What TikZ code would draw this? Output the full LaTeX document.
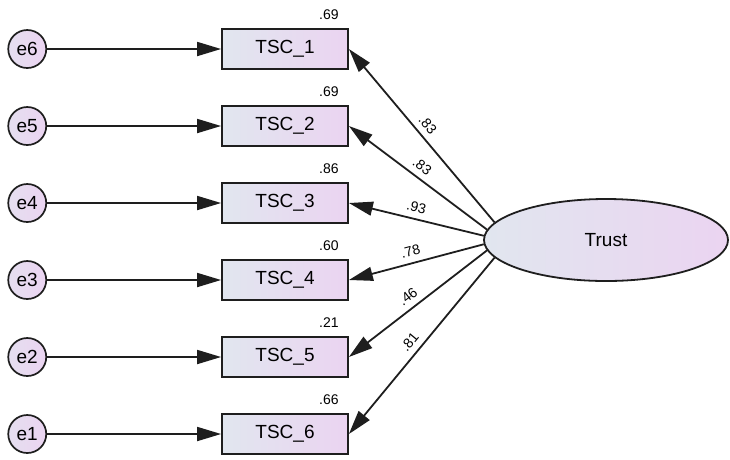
\documentclass[tikz,border=0pt]{standalone}
\usepackage{fontspec}
\setmainfont{Liberation Sans}
\usetikzlibrary{arrows.meta,positioning,shapes.geometric}
\definecolor{shadeleft}{HTML}{E1E6EF}
\definecolor{shaderight}{HTML}{EBD4F1}
\definecolor{edgeline}{HTML}{1E1E1E}
\tikzstyle{observed}=[
	rectangle,
	draw=edgeline,
	line width=1.8pt,
	left color=shadeleft,
	right color=shaderight,
	minimum width=126pt,
	minimum height=40pt,
	inner sep=0pt,
	font=\fontsize{19}{22}\selectfont,
	node distance=35.2pt
]
\tikzstyle{error}=[
	circle,
	draw=edgeline,
	line width=1.7pt,
	left color=shadeleft!60!shaderight,
	right color=shaderight,
	minimum size=38pt,
	inner sep=0pt,
	font=\fontsize{19}{22}\selectfont,
	node distance=174pt
]
\tikzstyle{latent}=[
	ellipse,
	draw=edgeline,
	line width=1.8pt,
	left color=shadeleft,
	right color=shaderight,
	minimum width=244pt,
	minimum height=82pt,
	inner sep=0pt,
	font=\fontsize{19}{22}\selectfont
]
\tikzstyle{regress}=[
	-{Triangle[length=24pt,width=14pt]},
	line width=1.8pt,
	draw=edgeline
]
\tikzstyle{coef}=[
	sloped,
	above=5pt,
	pos=0.52,
	inner sep=1pt,
	font=\fontsize{14}{16}\selectfont
]
\tikzstyle{rsq}=[
	anchor=base east,
	inner sep=0pt,
	font=\fontsize{14}{16}\selectfont
]

\begin{document}
\begin{tikzpicture}[x=1pt,y=-1pt]
\useasboundingbox (0,0) rectangle (730,459);
% indicators
\node [observed] (TSC1) at (285,49) {TSC\_1};
\node [observed] (TSC2) [below=of TSC1] {TSC\_2};
\node [observed] (TSC3) [below=of TSC2] {TSC\_3};
\node [observed] (TSC4) [below=of TSC3] {TSC\_4};
\node [observed] (TSC5) [below=of TSC4] {TSC\_5};
\node [observed] (TSC6) [below=of TSC5] {TSC\_6};
% squared multiple correlations
\node [rsq] (R1) at ([xshift=-10pt,yshift=9pt]TSC1.north east) {.69};
\node [rsq] (R2) at ([xshift=-10pt,yshift=9pt]TSC2.north east) {.69};
\node [rsq] (R3) at ([xshift=-10pt,yshift=9pt]TSC3.north east) {.86};
\node [rsq] (R4) at ([xshift=-10pt,yshift=9pt]TSC4.north east) {.60};
\node [rsq] (R5) at ([xshift=-10pt,yshift=9pt]TSC5.north east) {.21};
\node [rsq] (R6) at ([xshift=-10pt,yshift=9pt]TSC6.north east) {.66};
% error terms
\node [error] (e6) [left=of TSC1] {e6} edge [regress] (TSC1);
\node [error] (e5) [left=of TSC2] {e5} edge [regress] (TSC2);
\node [error] (e4) [left=of TSC3] {e4} edge [regress] (TSC3);
\node [error] (e3) [left=of TSC4] {e3} edge [regress] (TSC4);
\node [error] (e2) [left=of TSC5] {e2} edge [regress] (TSC5);
\node [error] (e1) [left=of TSC6] {e1} edge [regress] (TSC6);
% factor
\node [latent] (Trust) at (606,240) {Trust};
\draw [regress] (Trust.171) -- node [coef] (L1) {.83} (TSC1.east);
\draw [regress] (Trust.175) -- node [coef] (L2) {.83} (TSC2.east);
\draw [regress] (Trust.178) -- node [coef] (L3) {.93} (TSC3.east);
\draw [regress] (Trust.182) -- node [coef] (L4) {.78} (TSC4.east);
\draw [regress] (Trust.185) -- node [coef] (L5) {.46} (TSC5.east);
\draw [regress] (Trust.189) -- node [coef] (L6) {.81} (TSC6.east);
\end{tikzpicture}
\end{document}
